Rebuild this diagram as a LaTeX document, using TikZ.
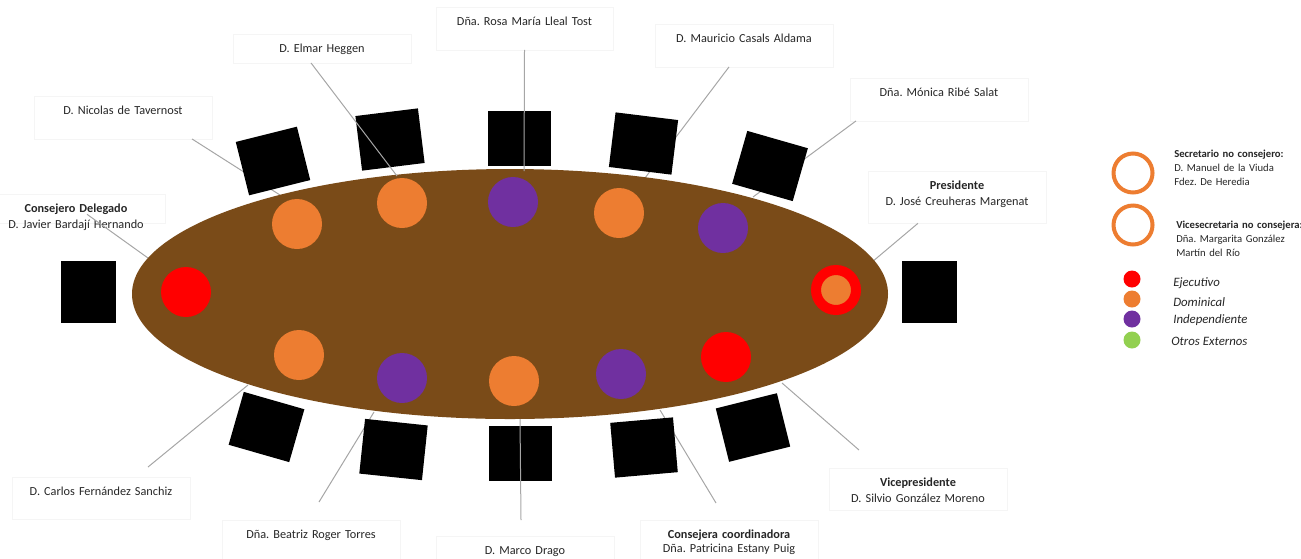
\documentclass[tikz,border=0pt]{standalone}
\usepackage{fontspec}
\setmainfont{Carlito}
\usetikzlibrary{positioning, calc, shapes.geometric}
\frenchspacing

\definecolor{tablebrown}{RGB}{122,75,24}
\definecolor{seatorange}{RGB}{237,125,49}
\definecolor{seatpurple}{RGB}{112,48,160}
\definecolor{seatred}{RGB}{255,0,0}
\definecolor{seatgreen}{RGB}{146,208,80}
\definecolor{leadgray}{RGB}{166,166,166}

\begin{document}
\begin{tikzpicture}[
    x=0.75pt, y=-0.75pt,
    chair/.style={fill=black, inner sep=0, minimum width=47.25pt, minimum height=41.25pt},
    sidechair/.style={fill=black, inner sep=0, minimum width=41.25pt, minimum height=46.5pt},
    seat/.style={circle, inner sep=0, minimum size=37.5pt},
    lbl/.style={draw=black!4, line width=0.2pt, anchor=north, align=center, text width=125pt, inner xsep=4pt,
        inner ysep=7.5pt, text height=6.5pt, font=\fontsize{9.2}{12}\selectfont, text=black!85},
    lead/.style={draw=leadgray, line width=0.75pt},
    keyring/.style={circle, draw=seatorange, line width=3pt, fill=white, minimum size=29.25pt, inner sep=0},
    keydot/.style={circle, inner sep=0, minimum size=12.75pt},
    keytext/.style={anchor=west, inner sep=0, font=\fontsize{9.6}{10}\selectfont\itshape, text=black!85},
    notetext/.style={anchor=north west, align=left, text width=130pt, inner sep=0,
        text height=5.5pt, font=\fontsize{8}{10.5}\selectfont, text=black!85}
]
\useasboundingbox (0,0) rectangle (1301,558);

%=== Labels round the table ===
\node[lbl, text depth=10.5pt] (tav) at (123,96)  {D. Nicolas de Tavernost};
\node[lbl, text depth=0pt]    (heg) at (322,34)  {D. Elmar Heggen};
\node[lbl, text depth=10.5pt] (lle) at (524.5,7) {Dña. Rosa María Lleal Tost};
\node[lbl, text depth=10.5pt] (cas) at (744,24)  {D. Mauricio Casals Aldama};
\node[lbl, text depth=10.5pt] (rib) at (939,78)  {Dña. Mónica Ribé Salat};
\node[lbl, text depth=17.5pt] (pre) at (957,171) {\textbf{Presidente}\\D. José Creuheras Margenat};
\node[lbl, text depth=0pt]    (bar) at (76,194)  {\textbf{Consejero Delegado}\\D. Javier Bardají Hernando};
\node[lbl, text depth=10pt]   (fer) at (101,477) {D. Carlos Fernández Sanchiz};
\node[lbl, text depth=10pt]   (rog) at (311,520) {Dña. Beatriz Roger Torres};
\node[lbl, text depth=10pt]   (dra) at (525,536) {D. Marco Drago};
\node[lbl, text depth=10pt, font=\fontsize{9.2}{10.5}\selectfont]
                              (est) at (729,520) {\textbf{Consejera coordinadora}\\Dña. Patricina Estany Puig};
\node[lbl, text depth=10pt]   (vic) at (918,468) {\textbf{Vicepresidente}\\D. Silvio González Moreno};

% leader ends on the table edge
\coordinate (t-tav) at (280,195);
\coordinate (t-heg) at (397,176);
\coordinate (t-lle) at (524,171);
\coordinate (t-cas) at (645,178);
\coordinate (t-rib) at (753,197);
\coordinate (t-pre) at (872,262);
\coordinate (t-bar) at (148,258);
\coordinate (t-fer) at (248,385);
\coordinate (t-rog) at (374,412);
\coordinate (t-dra) at (520,419);
\coordinate (t-est) at (660,410);
\coordinate (t-vic) at (782,383);

% leaders running under the chairs
\draw[lead] ([xshift=51.75pt]tav.south) -- (t-tav);
\draw[lead] ([xshift=-11.25pt]cas.south) -- (t-cas);
\draw[lead] ([xshift=-62.25pt]rib.south) -- (t-rib);
\draw[lead] ([xshift=-29.25pt]pre.south) -- (t-pre);
\draw[lead] ([xshift=8.25pt, yshift=6.5pt]bar.south) -- (t-bar);
\draw[lead] ([xshift=35.25pt, yshift=7.5pt]fer.north) -- (t-fer);
\draw[lead] ([xshift=6pt, yshift=13.5pt]rog.north) -- (t-rog);
\draw[lead] ([xshift=-9.75pt, yshift=12.75pt]est.north) -- (t-est);
\draw[lead] ([xshift=-44.25pt, yshift=13.5pt]vic.north) -- (t-vic);

%=== Table and seats ===
\node[ellipse, fill=tablebrown, inner sep=0, minimum width=567pt, minimum height=187.5pt] (table) at (510,294) {};

% top row
\node[seat, fill=seatorange] (s1) at (297,224) {};
\node[seat, fill=seatorange] (s2) at (402,203) {};
\node[seat, fill=seatpurple] (s3) at (513,202) {};
\node[seat, fill=seatorange] (s4) at (619,213) {};
\node[seat, fill=seatpurple] (s5) at (723,228) {};
% ends
\node[seat, fill=seatred] (s6) at (186,292) {};
\node[circle, draw=seatred, line width=7.5pt, fill=seatorange, inner sep=0, minimum size=30pt] (s7) at (836,290) {}; % president
% bottom row
\node[seat, fill=seatorange] (s8)  at (299,355) {};
\node[seat, fill=seatpurple] (s9)  at (402,378) {};
\node[seat, fill=seatorange] (s10) at (514,381) {};
\node[seat, fill=seatpurple] (s11) at (621,374) {};
\node[seat, fill=seatred]    (s12) at (726,357) {};

%=== Chairs ===
\node[chair, rotate=14]  (c1) at (273,161) {};
\node[chair, rotate=7]   (c2) at (390,139.5) {};
\node[chair]             (c3) at (519.5,138) {};
\node[chair, rotate=-7]  (c4) at (643.5,143.5) {};
\node[chair, rotate=-16] (c5) at (770,166) {};
\node[sidechair]         (c6) at (88.5,292) {};
\node[sidechair]         (c7) at (929.5,292) {};
\node[chair, rotate=-16] (c8)  at (266.5,427) {};
\node[chair, rotate=-6]  (c9)  at (393.5,449.5) {};
\node[chair]             (c10) at (520,453.5) {};
\node[chair, rotate=5]   (c11) at (644,447.5) {};
\node[chair, rotate=14]  (c12) at (753,427.5) {};

% leaders drawn over the chairs
\draw[lead] ([xshift=-8.25pt]heg.south) -- (t-heg);
\draw[lead] (lle.south) -- (t-lle);
\draw[lead] ([xshift=-3pt, yshift=12pt]dra.north) -- (t-dra);

%=== Legend ===
\node[keyring] (k1) at (1133,173) {};
\node[keyring] (k2) at (1133,225) {};
\node[notetext] (n1) at (1174,150) {\textbf{Secretario no consejero:}\\D. Manuel de la Viuda\\Fdez. De Heredia};
\node[notetext] (n2) at (1176,221) {\textbf{Vicesecretaria no consejera:}\\Dña. Margarita González\\Martín del Río};

\node[keydot, fill=seatred]    (d1) at (1132,279) {};
\node[keydot, fill=seatorange] (d2) at (1132,299) {};
\node[keydot, fill=seatpurple] (d3) at (1132,319) {};
\node[keydot, fill=seatgreen]  (d4) at (1132,340) {};
\node[keytext] (e1) at (1173,283) {Ejecutivo};
\node[keytext] (e2) at (1173,302) {Dominical};
\node[keytext] (e3) at (1173,320) {Independiente};
\node[keytext] (e4) at (1171,341) {Otros Externos};

\end{tikzpicture}
\end{document}
